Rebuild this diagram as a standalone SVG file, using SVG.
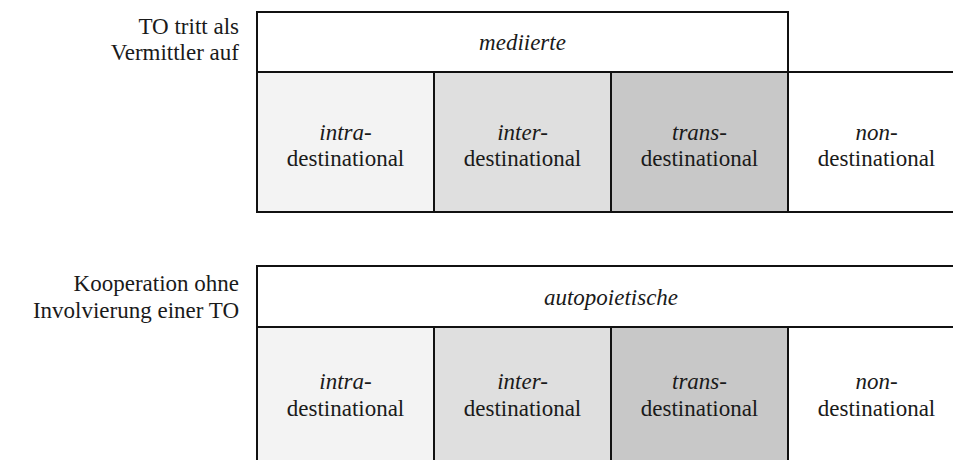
<svg xmlns="http://www.w3.org/2000/svg" width="953" height="460" viewBox="0 0 953 460">
  <style>
    .box { stroke: #111; stroke-width: 2; }
    .head { fill: #fff; }
    .intra { fill: #f3f3f3; }
    .inter { fill: #dfdfdf; }
    .trans { fill: #c8c8c8; }
    .non { fill: #fff; }
  </style>
  <rect width="953" height="460" fill="#fff"/>

  <!-- Row labels -->
  <g id="label-mediiert" text-anchor="end" fill="#1a1a1a">
    <text x="239" y="34" font-family="Liberation Serif" font-size="23">TO tritt als</text>
    <text x="239" y="60" font-family="Liberation Serif" font-size="23">Vermittler auf</text>
  </g>
  <g id="label-autopoietisch" text-anchor="end" fill="#1a1a1a">
    <text x="239" y="291" font-family="Liberation Serif" font-size="23">Kooperation ohne</text>
    <text x="239" y="318" font-family="Liberation Serif" font-size="23">Involvierung einer TO</text>
  </g>

  <!-- Upper table: mediated -->
  <g id="mediierte" text-anchor="middle" fill="#1a1a1a">
    <rect class="box head" x="257" y="12" width="531" height="60"/>
    <text x="522.5" y="50" font-family="Liberation Serif" font-size="23" font-style="italic">mediierte</text>
  </g>
  <g id="m-intra" text-anchor="middle" fill="#1a1a1a">
    <rect class="box intra" x="257" y="72" width="177" height="140"/>
    <text x="345.5" y="140" font-family="Liberation Serif" font-size="23" font-style="italic">intra-</text>
    <text x="345.5" y="166" font-family="Liberation Serif" font-size="23">destinational</text>
  </g>
  <g id="m-inter" text-anchor="middle" fill="#1a1a1a">
    <rect class="box inter" x="434" y="72" width="177" height="140"/>
    <text x="522.5" y="140" font-family="Liberation Serif" font-size="23" font-style="italic">inter-</text>
    <text x="522.5" y="166" font-family="Liberation Serif" font-size="23">destinational</text>
  </g>
  <g id="m-trans" text-anchor="middle" fill="#1a1a1a">
    <rect class="box trans" x="611" y="72" width="177" height="140"/>
    <text x="699.5" y="140" font-family="Liberation Serif" font-size="23" font-style="italic">trans-</text>
    <text x="699.5" y="166" font-family="Liberation Serif" font-size="23">destinational</text>
  </g>
  <g id="m-non" text-anchor="middle" fill="#1a1a1a">
    <rect class="box non" x="788" y="72" width="177" height="140"/>
    <text x="876.5" y="140" font-family="Liberation Serif" font-size="23" font-style="italic">non-</text>
    <text x="876.5" y="166" font-family="Liberation Serif" font-size="23">destinational</text>
  </g>

  <!-- Lower table: autopoietic -->
  <g id="autopoietische" text-anchor="middle" fill="#1a1a1a">
    <rect class="box head" x="257" y="266" width="708" height="61"/>
    <text x="611" y="305" font-family="Liberation Serif" font-size="23" font-style="italic">autopoietische</text>
  </g>
  <g id="a-intra" text-anchor="middle" fill="#1a1a1a">
    <rect class="box intra" x="257" y="327" width="177" height="142"/>
    <text x="345.5" y="389" font-family="Liberation Serif" font-size="23" font-style="italic">intra-</text>
    <text x="345.5" y="416" font-family="Liberation Serif" font-size="23">destinational</text>
  </g>
  <g id="a-inter" text-anchor="middle" fill="#1a1a1a">
    <rect class="box inter" x="434" y="327" width="177" height="142"/>
    <text x="522.5" y="389" font-family="Liberation Serif" font-size="23" font-style="italic">inter-</text>
    <text x="522.5" y="416" font-family="Liberation Serif" font-size="23">destinational</text>
  </g>
  <g id="a-trans" text-anchor="middle" fill="#1a1a1a">
    <rect class="box trans" x="611" y="327" width="177" height="142"/>
    <text x="699.5" y="389" font-family="Liberation Serif" font-size="23" font-style="italic">trans-</text>
    <text x="699.5" y="416" font-family="Liberation Serif" font-size="23">destinational</text>
  </g>
  <g id="a-non" text-anchor="middle" fill="#1a1a1a">
    <rect class="box non" x="788" y="327" width="177" height="142"/>
    <text x="876.5" y="389" font-family="Liberation Serif" font-size="23" font-style="italic">non-</text>
    <text x="876.5" y="416" font-family="Liberation Serif" font-size="23">destinational</text>
  </g>

  <!-- No connectors in this figure -->
  <g id="connectors"/>
</svg>
